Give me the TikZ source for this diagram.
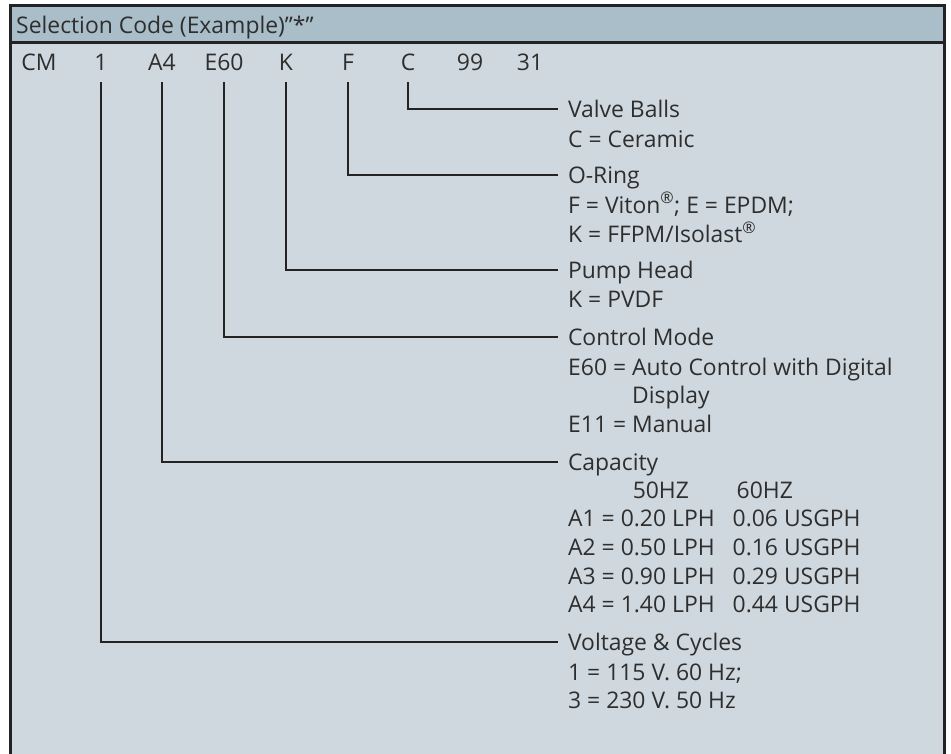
\documentclass[tikz,border=0pt]{standalone}
\usepackage{fontspec}
\setmainfont{Open Sans}
\usetikzlibrary{positioning}
\definecolor{headfill}{HTML}{A9BEC8}
\definecolor{bodyfill}{HTML}{CFD8DF}
\definecolor{ink}{HTML}{2E2E2E}
\definecolor{rule}{HTML}{232323}
\newcommand{\regmark}{\textsuperscript{®}}
\newcommand{\textlines}[1]{\begin{tabular}[t]{@{}l@{}}#1\end{tabular}}

\tikzset{
  code/.style={anchor=base, text depth=0pt, inner ysep=0pt, outer ysep=12pt},
  title/.style={anchor=base west, text height=17pt, text depth=0pt, inner xsep=10pt, inner ysep=0pt, outer sep=0pt},
  detail/.style={anchor=base west, inner sep=0pt},
  lead/.style={draw=rule, line width=2pt},
  frame/.style={draw=rule, line width=3pt},
}

\begin{document}
\begin{tikzpicture}[x=1pt, y=-1pt, font=\fontsize{22.9}{28.7}\selectfont, text=ink]
  \useasboundingbox (0,0) rectangle (951,753);
  \clip (0,0) rectangle (951,753);

  % Frame and header band
  \fill[bodyfill] (10,5) rectangle (944,760);
  \fill[headfill] (10,5) rectangle (944,42);
  \draw[frame] (10,760) -- (10,5) -- (944,5) -- (944,760);
  \draw[frame] (10,42) -- (944,42);
  \node[anchor=base west, inner sep=0pt] (heading) at (16,33) {Selection Code (Example)”*”};

  % Code row
  \node[code] (cCM) at (39,70) {CM};
  \node[code] (c1) at (101,70) {1};
  \node[code] (cA4) at (162,70) {A4};
  \node[code] (cE60) at (224,70) {E60};
  \node[code] (cK) at (286,70) {K};
  \node[code] (cF) at (348,70) {F};
  \node[code] (cC) at (408,70) {C};
  \node[code] (c99) at (470,70) {99};
  \node[code] (c31) at (530,70) {31};

  % Valve balls
  \node[title] (valve) at (558,117) {Valve Balls};
  \node[detail] (valvetxt) at (568,147) {C = Ceramic};

  % O-ring
  \node[title] (oring) at (558,183) {O-Ring};
  \node[detail] (oringtxt) at (568,213) {\textlines{F = Viton\regmark; E = EPDM;\\K = FFPM/Isolast\regmark}};

  % Pump head
  \node[title] (head) at (558,278) {Pump Head};
  \node[detail] (headtxt) at (568,307) {K = PVDF};

  % Control mode
  \node[title] (mode) at (558,345) {Control Mode};
  \node[detail] (modetxt) at (568,375) {\begin{tabular}[t]{@{}l@{\ }l@{}}
    E60 = & Auto Control with Digital\\
          & Display\\
    E11 = & Manual
  \end{tabular}};

  % Capacity
  \node[title] (capacity) at (558,470) {Capacity};
  \node[detail] (capacitytxt) at (568,498) {\begin{tabular}[t]{@{}l@{\ }l@{\hspace{18pt}}l@{}}
         & \hspace{12pt}50HZ & \hspace{4pt}60HZ\\
    A1 = & 0.20 LPH & 0.06 USGPH\\
    A2 = & 0.50 LPH & 0.16 USGPH\\
    A3 = & 0.90 LPH & 0.29 USGPH\\
    A4 = & 1.40 LPH & 0.44 USGPH
  \end{tabular}};

  % Voltage
  \node[title] (voltage) at (558,650) {Voltage \& Cycles};
  \node[detail] (voltagetxt) at (568,680) {\textlines{1 = 115 V. 60 Hz;\\3 = 230 V. 50 Hz}};

  % Leaders
  \draw[lead] (cC.south) |- (valve.west);
  \draw[lead] (cF.south) |- (oring.west);
  \draw[lead] (cK.south) |- (head.west);
  \draw[lead] (cE60.south) |- (mode.west);
  \draw[lead] (cA4.south) |- (capacity.west);
  \draw[lead] (c1.south) |- (voltage.west);
\end{tikzpicture}
\end{document}
